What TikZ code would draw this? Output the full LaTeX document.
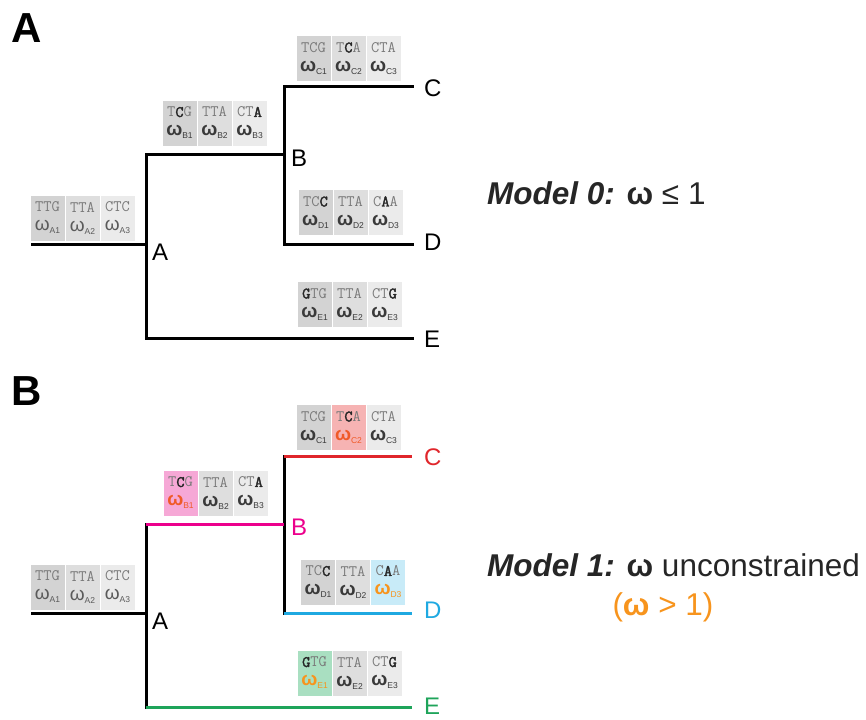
\documentclass[tikz,border=0pt]{standalone}
\usepackage{fontspec}
\setmainfont{Liberation Sans}
\newfontfamily\monof{Latin Modern Mono}
\newfontfamily\monofb{Latin Modern Mono}[FakeBold=2.2]
\definecolor{g1}{HTML}{D3D3D3}
\definecolor{g2}{HTML}{DEDEDE}
\definecolor{g3}{HTML}{EBEBEB}
\definecolor{pinkcell}{HTML}{F6A8D6}
\definecolor{redcell}{HTML}{F6B3B3}
\definecolor{bluecell}{HTML}{C8EBF8}
\definecolor{greencell}{HTML}{A9DFC1}
\definecolor{orng}{HTML}{F7941D}
\definecolor{redom}{HTML}{F05A28}
\definecolor{magl}{HTML}{EC008C}
\definecolor{redl}{HTML}{E0262B}
\definecolor{bluel}{HTML}{1FA9E1}
\definecolor{greenl}{HTML}{1EA45A}
\definecolor{codgray}{HTML}{7A7A7A}
\definecolor{omdark}{HTML}{3A3A3A}
\definecolor{omlight}{HTML}{5A5A5A}
\newcommand\cod[1]{{\monof\fontsize{16}{19}\selectfont\color{codgray}#1}}
\newcommand\bb[1]{{\monofb\color{black!85}#1}}
\newcommand\om[2][omdark]{{\color{#1}\fontsize{19}{19}\selectfont\textbf{ω}\raisebox{-3pt}{\fontsize{8.5}{8.5}\selectfont #2}}}
\newcommand\omA[1]{{\color{omlight}\fontsize{19}{19}\selectfont ω\raisebox{-3pt}{\fontsize{8.5}{8.5}\selectfont #1}}}
\begin{document}
\begin{tikzpicture}[x=1pt,y=-1pt,
  cell/.style={rectangle, minimum width=35pt, minimum height=46pt, inner sep=0pt, draw=white, line width=0.6pt, align=center, font=\fontsize{14}{19}\selectfont},
  tree/.style={line width=3pt, line cap=rect},
  lab/.style={anchor=west, inner sep=0pt, font=\fontsize{24}{24}\selectfont},
  panel/.style={inner sep=0pt, font=\fontsize{42}{42}\selectfont\bfseries},
  model/.style={inner sep=0pt, font=\fontsize{31.5}{31.5}\selectfont}]
\useasboundingbox (0,0) rectangle (866,719);

% ---------------- Panel A ----------------
\node[panel] (pA) at (27,28) {A};
\coordinate (a0) at (32,244);
\coordinate (aj) at (146,244);
\coordinate (ab) at (146,155);
\coordinate (ae) at (146,338);
\coordinate (bj) at (284,155);
\coordinate (bc) at (284,87);
\coordinate (bd) at (284,244);
\coordinate (ce) at (412,87);
\coordinate (de) at (412,244);
\coordinate (ee) at (412,338);
\draw[tree] (a0) -- (aj);
\draw[tree] (ab) -- (ae);
\draw[tree] (ab) -- (bj);
\draw[tree] (bc) -- (bd);
\draw[tree] (bc) -- (ce);
\draw[tree] (bd) -- (de);
\draw[tree] (ae) -- (ee);
\node[lab] (lA) at (152,252) {A};
\node[lab] (lB) at (291,158) {B};
\node[lab] (lC) at (424,88) {C};
\node[lab] (lD) at (424,242) {D};
\node[lab] (lE) at (424,339) {E};

\node[cell,fill=g1] (a1) at (47.5,218) {\cod{TTG}\\\omA{A1}};
\node[cell,fill=g2] (a2) at (82.5,218) {\cod{TTA}\\\omA{A2}};
\node[cell,fill=g3] (a3) at (117.5,218) {\cod{CTC}\\\omA{A3}};

\node[cell,fill=g1] (b1) at (179.5,123) {\cod{T\bb{C}G}\\\om{B1}};
\node[cell,fill=g2] (b2) at (214.5,123) {\cod{TTA}\\\om{B2}};
\node[cell,fill=g3] (b3) at (249.5,123) {\cod{CT\bb{A}}\\\om{B3}};

\node[cell,fill=g1] (c1) at (313.5,58.5) {\cod{TCG}\\\om{C1}};
\node[cell,fill=g2] (c2) at (348.5,58.5) {\cod{T\bb{C}A}\\\om{C2}};
\node[cell,fill=g3] (c3) at (383.5,58.5) {\cod{CTA}\\\om{C3}};

\node[cell,fill=g1] (d1) at (315.5,212.5) {\cod{TC\bb{C}}\\\om{D1}};
\node[cell,fill=g2] (d2) at (350.5,212.5) {\cod{TTA}\\\om{D2}};
\node[cell,fill=g3] (d3) at (385.5,212.5) {\cod{C\bb{A}A}\\\om{D3}};

\node[cell,fill=g1] (e1) at (314.5,304.5) {\cod{\bb{G}TG}\\\om{E1}};
\node[cell,fill=g2] (e2) at (349.5,304.5) {\cod{TTA}\\\om{E2}};
\node[cell,fill=g3] (e3) at (384.5,304.5) {\cod{CT\bb{G}}\\\om{E3}};

\node[model, anchor=west, text=black!85] (m0) at (487,193)
  {\textbf{\textit{Model 0:}} \textbf{ω} ≤ 1};

% ---------------- Panel B ----------------
\node[panel] (pB) at (27,391) {B};
\coordinate (A0) at (32,613);
\coordinate (Aj) at (146,613);
\coordinate (Ab) at (146,524);
\coordinate (Ae) at (146,707);
\coordinate (Bj) at (284,524);
\coordinate (Bc) at (284,456);
\coordinate (Bd) at (284,613);
\coordinate (Ce) at (412,456);
\coordinate (De) at (412,613);
\coordinate (Ee) at (412,707);
\draw[tree] (A0) -- (Aj);
\draw[tree] (Ab) -- (Ae);
\draw[tree] (Bc) -- (Bd);
\draw[tree, magl, line cap=butt] (Ab) -- (Bj);
\draw[tree, redl, line cap=butt] (Bc) -- (Ce);
\draw[tree, bluel, line cap=butt] (Bd) -- (De);
\draw[tree, greenl, line cap=butt] (Ae) -- (Ee);
\node[lab] (LA) at (152,621) {A};
\node[lab, text=magl] (LB) at (291,527) {B};
\node[lab, text=redl] (LC) at (424,457) {C};
\node[lab, text=bluel] (LD) at (424,610) {D};
\node[lab, text=greenl] (LE) at (424,706) {E};

\node[cell,fill=g1] (A1) at (47.5,587) {\cod{TTG}\\\omA{A1}};
\node[cell,fill=g2] (A2) at (82.5,587) {\cod{TTA}\\\omA{A2}};
\node[cell,fill=g3] (A3) at (117.5,587) {\cod{CTC}\\\omA{A3}};

\node[cell,fill=pinkcell] (B1) at (180.5,493) {\cod{T\bb{C}G}\\\om[redom]{B1}};
\node[cell,fill=g2] (B2) at (215.5,493) {\cod{TTA}\\\om{B2}};
\node[cell,fill=g3] (B3) at (250.5,493) {\cod{CT\bb{A}}\\\om{B3}};

\node[cell,fill=g1] (C1) at (313.5,427.5) {\cod{TCG}\\\om{C1}};
\node[cell,fill=redcell] (C2) at (348.5,427.5) {\cod{T\bb{C}A}\\\om[redom]{C2}};
\node[cell,fill=g3] (C3) at (383.5,427.5) {\cod{CTA}\\\om{C3}};

\node[cell,fill=g1] (D1) at (318,582) {\cod{TC\bb{C}}\\\om{D1}};
\node[cell,fill=g2] (D2) at (353,582) {\cod{TTA}\\\om{D2}};
\node[cell,fill=bluecell] (D3) at (388,582) {\cod{C\bb{A}A}\\\om[orng]{D3}};

\node[cell,fill=greencell] (E1) at (314.5,673) {\cod{\bb{G}TG}\\\om[orng]{E1}};
\node[cell,fill=g2] (E2) at (349.5,673) {\cod{TTA}\\\om{E2}};
\node[cell,fill=g3] (E3) at (384.5,673) {\cod{CT\bb{G}}\\\om{E3}};

\node[model, anchor=west, text=black!85] (m1) at (487,565)
  {\textbf{\textit{Model 1:}} \textbf{ω} unconstrained};
\node[model, text=orng] (m1b) at (663,607) {(\textbf{ω} > 1)};
\end{tikzpicture}
\end{document}
